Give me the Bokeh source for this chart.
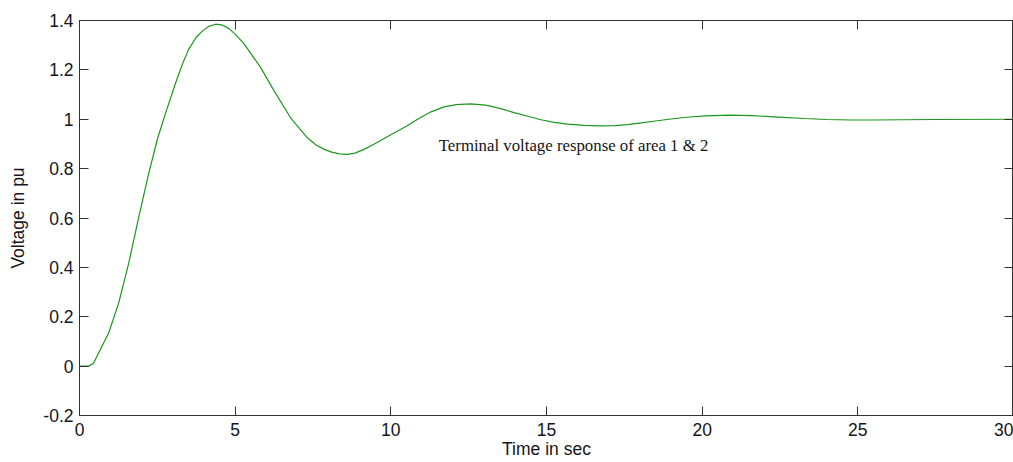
from bokeh.plotting import figure
from bokeh.models import ColumnDataSource, FixedTicker, LinearAxis, Label, CustomJSTickFormatter
from bokeh.embed import file_html
from bokeh.resources import INLINE

# Data
time_sec = [0, 0.3, 0.45, 0.675, 0.94, 1.26, 1.585, 1.91, 2.23, 2.50, 2.77, 3.09, 3.3, 3.51, 3.75,
            3.95, 4.15, 4.37, 4.6, 4.80, 5.0, 5.28, 5.55, 5.82, 6.25, 6.78, 7.32, 7.6, 7.86, 8.1,
            8.35, 8.6, 8.85, 9.14, 9.5, 10.0, 10.5, 10.86, 11.29, 11.71, 12.1, 12.55, 13.05,
            13.5, 13.96, 14.4, 14.82, 15.25, 15.68, 16.2, 16.7, 17.2, 17.6, 18.04, 18.5, 19.0,
            19.5, 20.1, 20.9, 21.6, 22.43, 23.29, 24.0, 24.8, 25.5, 26.4, 27.5, 30.0]
voltage_pu = [0, 0, 0.012, 0.068, 0.135, 0.256, 0.419, 0.608, 0.784, 0.919, 1.027, 1.148, 1.222, 1.284, 1.332,
              1.358, 1.376, 1.385, 1.381, 1.367, 1.345, 1.306, 1.258, 1.209, 1.115, 1.006, 0.925, 0.896, 0.878, 0.867,
              0.860, 0.858, 0.863, 0.878, 0.902, 0.937, 0.972, 1.000, 1.030, 1.050, 1.059, 1.062, 1.057,
              1.044, 1.027, 1.012, 0.998, 0.987, 0.980, 0.975, 0.973, 0.974, 0.978, 0.985, 0.993, 1.001,
              1.008, 1.014, 1.017, 1.015, 1.009, 1.003, 0.999, 0.997, 0.997, 0.998, 0.999, 1.0]

xtick_vals = [0, 5, 10, 15, 20, 25, 30]
xtick_labels = ["0", "5", "10", "15", "20", "25", "30"]
ytick_vals = [-0.2, 0, 0.2, 0.4, 0.6, 0.8, 1.0, 1.2, 1.4]
ytick_labels = ["-0.2", "0", "0.2", "0.4", "0.6", "0.8", "1", "1.2", "1.4"]

annotation_text = "Terminal voltage response of area 1 & 2"
annotation_x = 11.54
annotation_y = 0.893

source = ColumnDataSource(data=dict(t=time_sec, v=voltage_pu))

AX = "#333333"
TXT = "#151520"

p = figure(width=1013, height=462, x_range=(0, 30), y_range=(-0.2, 1.4),
           output_backend="svg", toolbar_location=None,
           min_border_left=79, min_border_right=0, min_border_top=20, min_border_bottom=47,
           x_axis_label="Time in sec", y_axis_label="Voltage in pu")
p.background_fill_color = "white"
p.border_fill_color = "white"
p.outline_line_color = AX
p.outline_line_width = 1
p.xgrid.visible = False
p.ygrid.visible = False

p.line("t", "v", source=source, line_color="#1c961c", line_width=1.2)

xt = FixedTicker(ticks=xtick_vals)
yt = FixedTicker(ticks=ytick_vals)

for ax, ticker, vals, labels in ((p.xaxis[0], xt, xtick_vals, xtick_labels),
                                 (p.yaxis[0], yt, ytick_vals, ytick_labels)):
    ax.ticker = ticker
    ax.major_label_overrides = {v: l for v, l in zip(vals, labels)}
    ax.major_tick_in = 9
    ax.major_tick_out = 0
    ax.minor_tick_line_color = None
    ax.axis_line_color = AX
    ax.major_tick_line_color = AX
    ax.major_label_text_font = "Liberation Sans"
    ax.major_label_text_font_size = "17.5px"
    ax.major_label_text_color = TXT
    ax.axis_label_text_font = "Liberation Sans"
    ax.axis_label_text_font_size = "17.5px"
    ax.axis_label_text_font_style = "normal"
    ax.axis_label_text_color = TXT

p.xaxis[0].major_label_standoff = 7
p.xaxis[0].axis_label_standoff = 0
p.yaxis[0].major_label_standoff = 6
p.yaxis[0].axis_label_standoff = 12

# mirrored ticks on top and right (no labels)
blank = CustomJSTickFormatter(code="return ''")
for loc, ticker in (("above", xt), ("right", yt)):
    a = LinearAxis(ticker=ticker, formatter=blank, major_label_text_font_size="6px",
                   major_label_standoff=0,
                   major_tick_in=9, major_tick_out=0, minor_tick_line_color=None,
                   axis_line_color=AX, major_tick_line_color=AX)
    p.add_layout(a, loc)

p.add_layout(Label(x=annotation_x, y=annotation_y, text=annotation_text,
                   text_font="Liberation Serif", text_font_size="16.8px",
                   text_color=TXT, text_align="left", text_baseline="alphabetic"))

open("out.html", "w").write(file_html(p, INLINE))
